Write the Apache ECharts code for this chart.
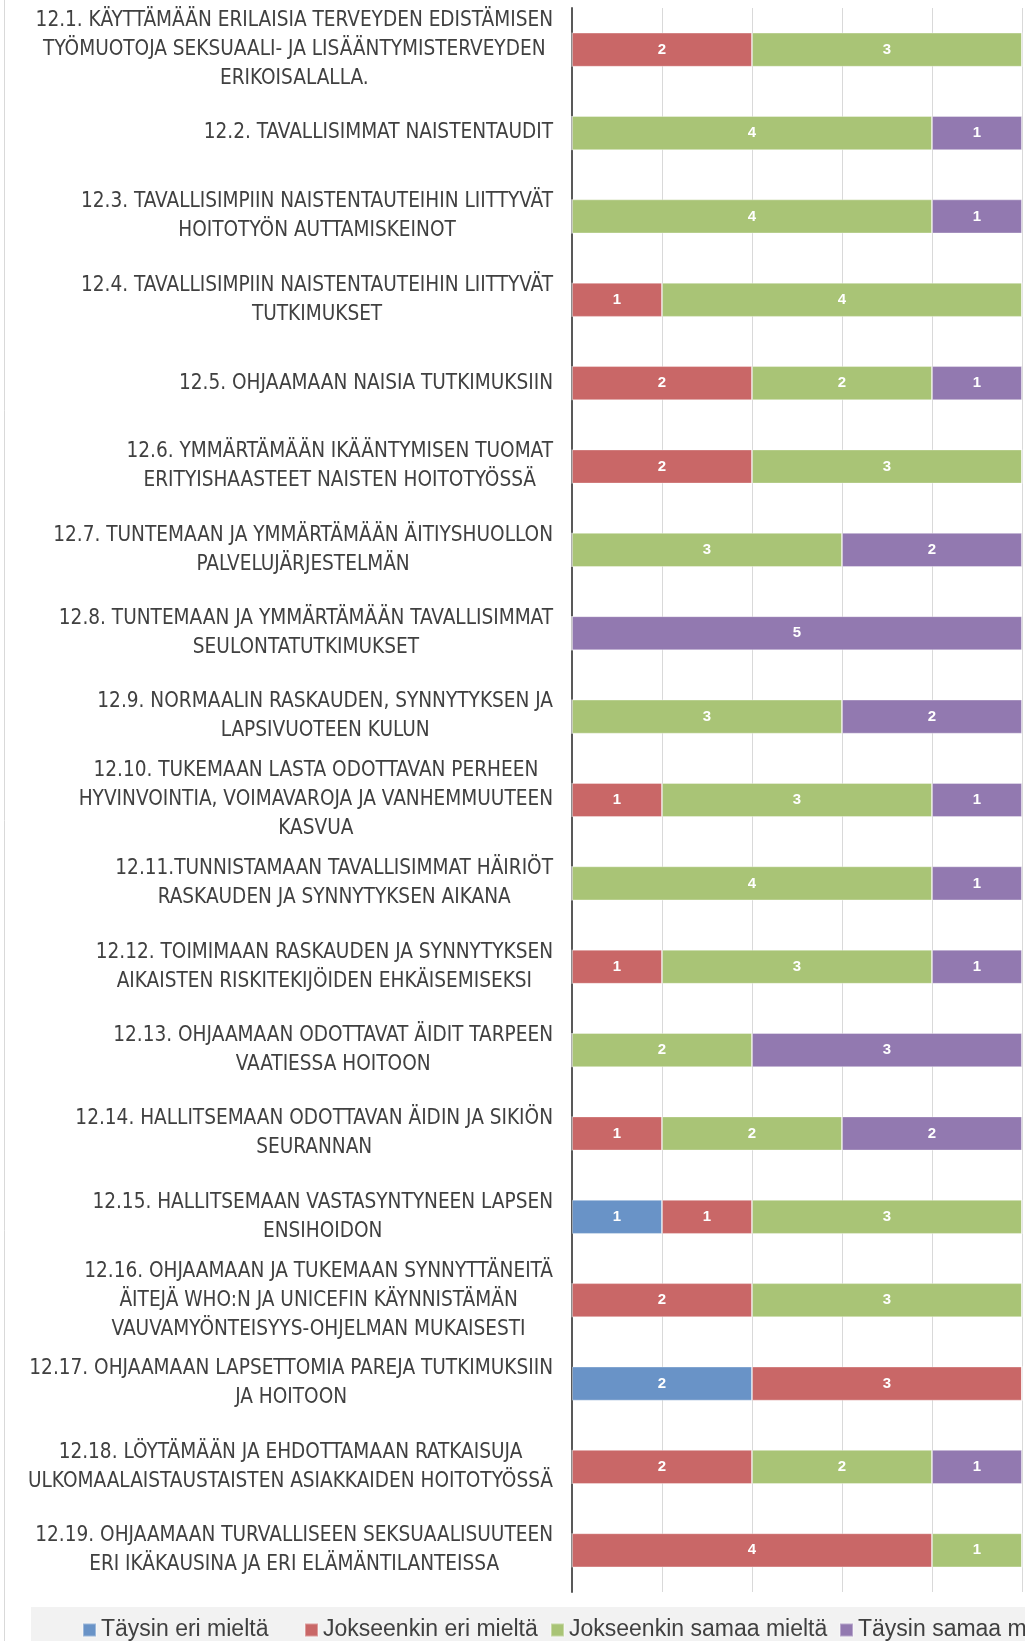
<!DOCTYPE html>
<html>
<head>
<meta charset="utf-8">
<script src="https://cdn.jsdelivr.net/npm/echarts@6/dist/echarts.min.js"></script>
<style>
    html, body { margin: 0; padding: 0; background: #fff; }
    #chart { width: 1025px; height: 1641px; }
</style>
</head>
<body>
<div id="chart"></div>
<script>
// kysymykset ylhäältä alas
var categories = [
    '12.1. KÄYTTÄMÄÄN ERILAISIA TERVEYDEN EDISTÄMISEN\nTYÖMUOTOJA SEKSUAALI- JA LISÄÄNTYMISTERVEYDEN\nERIKOISALALLA.',
    '12.2. TAVALLISIMMAT NAISTENTAUDIT',
    '12.3. TAVALLISIMPIIN NAISTENTAUTEIHIN LIITTYVÄT\nHOITOTYÖN AUTTAMISKEINOT',
    '12.4. TAVALLISIMPIIN NAISTENTAUTEIHIN LIITTYVÄT\nTUTKIMUKSET',
    '12.5. OHJAAMAAN NAISIA TUTKIMUKSIIN',
    '12.6. YMMÄRTÄMÄÄN IKÄÄNTYMISEN TUOMAT\nERITYISHAASTEET NAISTEN HOITOTYÖSSÄ',
    '12.7. TUNTEMAAN JA YMMÄRTÄMÄÄN ÄITIYSHUOLLON\nPALVELUJÄRJESTELMÄN',
    '12.8. TUNTEMAAN JA YMMÄRTÄMÄÄN TAVALLISIMMAT\nSEULONTATUTKIMUKSET',
    '12.9. NORMAALIN RASKAUDEN, SYNNYTYKSEN JA\nLAPSIVUOTEEN KULUN',
    '12.10. TUKEMAAN LASTA ODOTTAVAN PERHEEN\nHYVINVOINTIA, VOIMAVAROJA JA VANHEMMUUTEEN\nKASVUA',
    '12.11.TUNNISTAMAAN TAVALLISIMMAT HÄIRIÖT\nRASKAUDEN JA SYNNYTYKSEN AIKANA',
    '12.12. TOIMIMAAN RASKAUDEN JA SYNNYTYKSEN\nAIKAISTEN RISKITEKIJÖIDEN EHKÄISEMISEKSI',
    '12.13. OHJAAMAAN ODOTTAVAT ÄIDIT TARPEEN\nVAATIESSA HOITOON',
    '12.14. HALLITSEMAAN ODOTTAVAN ÄIDIN JA SIKIÖN\nSEURANNAN',
    '12.15. HALLITSEMAAN VASTASYNTYNEEN LAPSEN\nENSIHOIDON',
    '12.16. OHJAAMAAN JA TUKEMAAN SYNNYTTÄNEITÄ\nÄITEJÄ WHO:N JA UNICEFIN KÄYNNISTÄMÄN\nVAUVAMYÖNTEISYYS-OHJELMAN MUKAISESTI',
    '12.17. OHJAAMAAN LAPSETTOMIA PAREJA TUTKIMUKSIIN\nJA HOITOON',
    '12.18. LÖYTÄMÄÄN JA EHDOTTAMAAN RATKAISUJA\nULKOMAALAISTAUSTAISTEN ASIAKKAIDEN HOITOTYÖSSÄ',
    '12.19. OHJAAMAAN TURVALLISEEN SEKSUAALISUUTEEN\nERI IKÄKAUSINA JA ERI ELÄMÄNTILANTEISSA'
];
var seriesNames = ['Täysin eri mieltä', 'Jokseenkin eri mieltä', 'Jokseenkin samaa mieltä', 'Täysin samaa mieltä'];
var taysinEri     = [0, 0, 0, 0, 0, 0, 0, 0, 0, 0, 0, 0, 0, 0, 1, 0, 2, 0, 0];
var jokseenkinEri = [2, 0, 0, 1, 2, 2, 0, 0, 0, 1, 0, 1, 0, 1, 1, 2, 3, 2, 4];
var jokseenkinSam = [3, 4, 4, 4, 2, 3, 3, 0, 3, 3, 4, 3, 2, 2, 3, 3, 0, 2, 1];
var taysinSamaa   = [0, 1, 1, 0, 1, 0, 2, 5, 2, 1, 1, 1, 3, 2, 0, 0, 0, 1, 0];
var xTicks = [0, 1, 2, 3, 4, 5];

var colors = ['#6993c7', '#c96767', '#a9c476', '#9279b0'];
var FONT = '"Liberation Sans Narrow", "DejaVu Sans Condensed", "Liberation Sans", sans-serif';

var chart = echarts.init(document.getElementById('chart'));

function makeSeries(name, data, i) {
    return {
        name: name,
        type: 'bar',
        stack: 'total',
        barWidth: '41%',
        data: data,
        itemStyle: { color: colors[i], borderColor: 'rgba(255,255,255,0.35)', borderWidth: 1 },
        label: {
            show: true,
            color: '#fff',
            fontWeight: 'bold',
            fontSize: 15,
            fontFamily: '"Liberation Sans", sans-serif',
            formatter: function (p) { return p.value ? String(p.value) : ''; }
        }
    };
}

var allData = [taysinEri, jokseenkinEri, jokseenkinSam, taysinSamaa];
var legendWidths = [203, 227, 270, 300];

chart.setOption({
    animation: false,
    color: colors,
    grid: { left: 572, right: 3, top: 8, bottom: 49, outerBoundsMode: 'none' },
    xAxis: {
        type: 'value',
        min: xTicks[0],
        max: xTicks[xTicks.length - 1],
        interval: 1,
        axisLabel: { show: false },
        axisLine: { show: false },
        axisTick: { show: false },
        splitLine: { show: true, lineStyle: { color: '#d9d9d9', width: 1 } }
    },
    yAxis: {
        type: 'category',
        inverse: true,
        data: categories,
        axisLine: { show: true, lineStyle: { color: '#595959', width: 2 } },
        axisTick: { show: false },
        axisLabel: {
            interval: 0,
            margin: 19,
            formatter: function (v) {
                return v.split('\n').map(function (s) { return '{c|' + s + '}'; }).join('\n');
            },
            rich: {
                c: { align: 'center', fontSize: 20.6, lineHeight: 29, color: '#404040', fontFamily: FONT }
            }
        }
    },
    legend: {
        left: 77,
        top: 1612,
        width: 2000,
        itemWidth: 13,
        itemHeight: 13,
        itemGap: 0,
        icon: 'rect',
        data: seriesNames.map(function (n, i) {
            return { name: n, textStyle: { width: legendWidths[i] } };
        }),
        textStyle: { fontSize: 23, lineHeight: 26, color: '#404040', fontFamily: '"Liberation Sans", sans-serif', padding: [0, 0, 0, 0] }
    },
    graphic: [
        { type: 'rect', z: -10, shape: { x: 31, y: 1607, width: 1000, height: 40 }, style: { fill: '#f2f2f2' } },
        { type: 'line', z: -10, shape: { x1: 4.5, y1: 0, x2: 4.5, y2: 1641 }, style: { stroke: '#d9d9d9', lineWidth: 1 } }
    ],
    series: seriesNames.map(function (n, i) { return makeSeries(n, allData[i], i); })
});
</script>
</body>
</html>
